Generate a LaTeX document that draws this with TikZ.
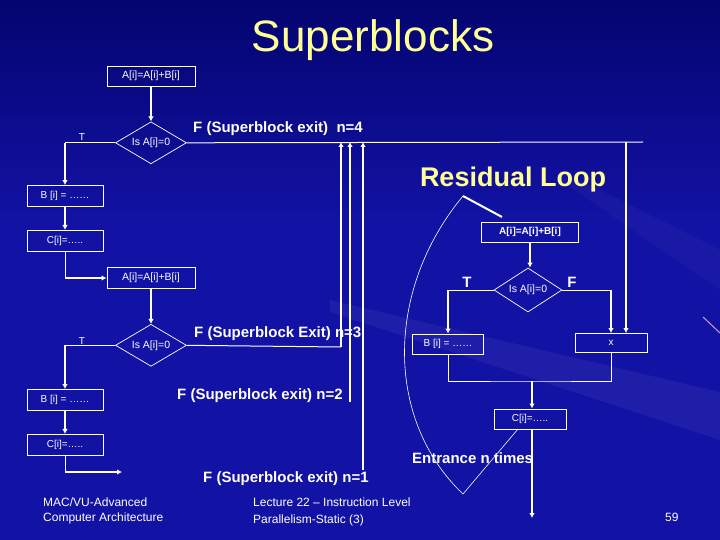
\documentclass[tikz,border=0pt]{standalone}
\usepackage{fontspec}
\setmainfont{Liberation Sans}
\usetikzlibrary{positioning, shapes.geometric, arrows.meta}

\definecolor{slidebg}{RGB}{18,18,164}
\definecolor{slidetop}{RGB}{4,4,112}
\definecolor{slideyellow}{RGB}{255,255,150}

\begin{document}
\begin{tikzpicture}[
    x=1pt, y=-1pt,
    block/.style = {rectangle, draw=white, line width=0.9pt, text=white,
                    inner sep=0pt, minimum width=#1, minimum height=21pt,
                    font=\fontsize{10}{12}\selectfont},
    block/.default = 76pt,
    test/.style = {diamond, aspect=2, draw=white, line width=0.7pt, text=white,
                   inner sep=0pt, minimum width=71pt, minimum height=42pt,
                   font=\fontsize{10.5}{12}\selectfont},
    exitlabel/.style = {anchor=base west, inner sep=0pt, text=white,
                        font=\bfseries\fontsize{15}{18}\selectfont},
    footer/.style = {anchor=base west, inner sep=0pt, text=white,
                     font=\fontsize{12}{14}\selectfont}
    ]
            % styles
            \tikzstyle{arrow} = [line width=2pt,-{Latex[length=5pt,width=5.5pt]},draw=white]
            \tikzstyle{wire} = [line width=1pt,draw=white]

            \useasboundingbox (0,0) rectangle (720,540);
            \fill[slidebg] (0,0) rectangle (720,540);
            \shade[top color=slidetop, bottom color=slidebg] (0,0) rectangle (720,220);
            \fill[white, opacity=0.05] (720,392) -- (330,300) -- (330,312) -- (720,440) -- cycle;
            \fill[white, opacity=0.03] (720,250) -- (560,170) -- (560,180) -- (720,290) -- cycle;
            \draw[violet!40!white, line width=1pt] (703,317) -- (720,333);

            \node (title) at (373,52) [anchor=base, text=slideyellow, font=\fontsize{44}{50}\selectfont] {Superblocks};

            \node (add1) at (151,76) [block=88pt, minimum height=20pt, font=\fontsize{10.5}{12}\selectfont] {A[i]=A[i]+B[i]};
            \node (tst1) [test, below=35pt of add1] {Is A[i]=0};
            \node (setb1) at (65,196) [block] {B [i] = ……};
            \node (setc1) [block, below=23pt of setb1] {C[i]=…..};
            \node (add2) at (151,278) [block=88pt, font=\fontsize{10.5}{12}\selectfont] {A[i]=A[i]+B[i]};
            \node (tst2) [test, below=35pt of add2] {Is A[i]=0};
            \node (setb2) at (65,400) [block] {B [i] = ……};
            \node (setc2) [block, below=23pt of setb2] {C[i]=…..};
            \node (t1) at (82,137) [text=white, font=\fontsize{10}{12}\selectfont] {T};
            \node (t2) at (82,341) [text=white, font=\fontsize{10}{12}\selectfont] {T};

            \node (rtitle) at (513,180) [text=slideyellow, font=\bfseries\fontsize{27}{30}\selectfont] {Residual Loop};
            \node (radd) at (530,232) [block=97pt, minimum height=20pt, font=\bfseries\fontsize{10}{12}\selectfont] {A[i]=A[i]+B[i]};
            \node (rtst) at (528,290) [test, minimum width=68pt, minimum height=44pt] {Is A[i]=0};
            \node (rsetb) at (448,344) [block=71pt, minimum height=20pt] {B [i] = ……};
            \node (rx) at (611,343) [block=72pt, minimum height=19pt] {x};
            \node (rsetc) at (530,419) [block=72pt, minimum height=20pt] {C[i]=…..};
            \node (rt) at (467,282) [text=white, font=\bfseries\fontsize{15}{18}\selectfont] {T};
            \node (rf) at (572,282) [text=white, font=\bfseries\fontsize{15}{18}\selectfont] {F};

            \node (exit4) at (193,133) [exitlabel] {F (Superblock exit)\ \ n=4};
            \node (exit3) at (194,337) [exitlabel] {F (Superblock Exit) n=3};
            \node (exit2) at (177,399) [exitlabel] {F (Superblock exit) n=2};
            \node (exit1) at (203,482) [exitlabel] {F (Superblock exit) n=1};
            \node (entry) at (412,463) [exitlabel] {Entrance n times};

            \node (foot1) at (43,506) [footer] {MAC/VU-Advanced};
            \node (foot2) at (43,521) [footer] {Computer Architecture};
            \node (foot3) at (253,506) [footer] {Lecture 22 – Instruction Level};
            \node (foot4) at (253,523) [footer] {Parallelism-Static (3)};
            \node (page) at (665,521) [footer] {59};

            \coordinate (e4) at (643,142);
            \coordinate (j4) at (626,142);
            \coordinate (j3) at (341,347);
            \coordinate (j2) at (350,402);
            \coordinate (j1) at (363,470);
            \coordinate (out1) at (122,472);
            \coordinate (merge) at (532,381);
            \coordinate (rout) at (532,518);
            \coordinate (arctop) at (463,196);
            \coordinate (arcbot) at (463,494);
            \coordinate (pointer) at (502,217);
            \coordinate (rin) at (518,429);

            \draw [arrow] (add1) -- (tst1);
            \draw [wire] (tst1.west) -- (tst1.west -| setb1.north);
            \draw [arrow] (tst1.west -| setb1.north) -- (setb1.north);
            \draw [arrow] (setb1) -- (setc1);
            \draw [wire] (setc1.south) -- (setc1.south |- add2.west);
            \draw [arrow] (setc1.south |- add2.west) -- (add2.west);
            \draw [arrow] (add2) -- (tst2);
            \draw [wire] (tst2.west) -- (tst2.west -| setb2.north);
            \draw [arrow] (tst2.west -| setb2.north) -- (setb2.north);
            \draw [arrow] (setb2) -- (setc2);
            \draw [wire] (setc2.south) -- (setc2.south |- out1);
            \draw [arrow] (setc2.south |- out1) -- (out1);

            \draw [wire] (tst1.east) -- (e4);
            \draw [arrow] (j4) -- (j4 |- rx.north);
            \draw [wire] (tst2.east) -- (j3);
            \draw [arrow] (j3) -- (j3 |- e4);
            \draw [arrow] (j2) -- (j2 |- e4);
            \draw [arrow] (j1) -- (j1 |- e4);

            \draw [arrow] (radd.south) -- (radd.south |- rtst.north);
            \draw [wire] (rtst.west) -- (rtst.west -| rsetb.north);
            \draw [arrow] (rtst.west -| rsetb.north) -- (rsetb.north);
            \draw [wire] (rtst.east) -- (rtst.east -| rx.north);
            \draw [arrow] (rtst.east -| rx.north) -- (rx.north);
            \draw [wire] (rsetb.south) |- (merge) -| (rx.south);
            \draw [arrow] (merge) -- (merge |- rsetc.north);
            \draw [arrow] (rsetc.south -| rout) -- (rout);

            \draw [white, line width=0.6pt] (arctop) .. controls (385,290) and (385,420) .. (arcbot) -- (rin);
            \draw [white, line width=2pt] (arctop) -- (pointer);
    \end{tikzpicture}
\end{document}
